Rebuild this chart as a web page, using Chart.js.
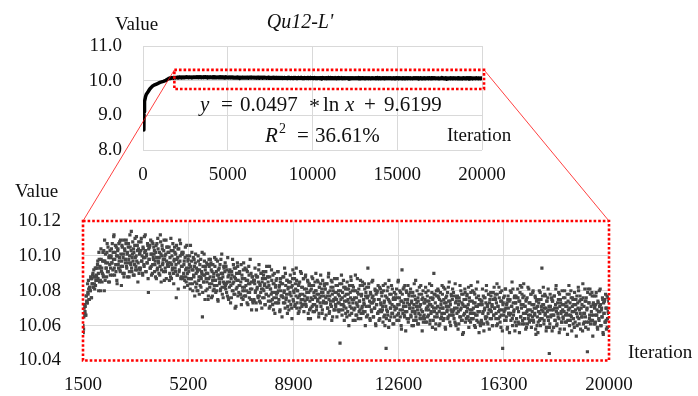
<!DOCTYPE html>
<html><head><meta charset="utf-8">
<script src="https://cdn.jsdelivr.net/npm/chart.js@4/dist/chart.umd.min.js"></script>
<style>
html,body{margin:0;padding:0;background:#fff;}
#wrap{position:relative;width:698px;height:396px;overflow:hidden;}
canvas{position:absolute;left:0;top:0;}
</style></head><body>
<div id="wrap"><canvas id="cTop" width="698" height="396"></canvas><canvas id="cBottom" width="698" height="396"></canvas></div>
<script>
// ---- data ----
const topXTicks = [0, 5000, 10000, 15000, 20000];
const topYTicks = [8, 9, 10, 11];
const bottomXTicks = [1500, 5200, 8900, 12600, 16300, 20000];
const bottomYTicks = [10.04, 10.06, 10.08, 10.10, 10.12];

// early rise (top chart only)
const earlyIterations = [50, 60, 80, 100, 150, 200, 300, 400, 530, 650, 830, 1000, 1200, 1350];
const earlyValues     = [8.58, 9.10, 9.30, 9.40, 9.54, 9.61, 9.68, 9.76, 9.83, 9.87, 9.91, 9.95, 9.98, 10.01];

// sampled values, set one: iteration 1500, 1520, ... 20000
const setOneStart = 1500, setTwoStart = 1510, sampleStep = 20;
const cloudA = [
10.060,10.058,10.070,10.067,10.071,10.066,10.077,10.073,10.084,10.078,10.081,10.075,10.082,10.080,10.087,10.076,10.084,10.089,10.082,10.092,10.084,10.088,10.083,10.093,10.088,
10.086,10.097,10.090,10.102,10.085,10.094,10.080,10.098,10.093,10.090,10.102,10.088,10.097,10.109,10.086,10.096,10.093,10.102,10.091,10.105,10.085,10.100,10.095,10.089,10.099,
10.104,10.096,10.089,10.102,10.111,10.093,10.098,10.106,10.091,10.100,10.084,10.103,10.095,10.107,10.099,10.092,10.109,10.094,10.097,10.105,10.090,10.101,10.088,10.104,10.098,
10.098,10.109,10.093,10.102,10.096,10.107,10.088,10.100,10.105,10.095,10.114,10.091,10.101,10.097,10.104,10.089,10.106,10.099,10.094,10.111,10.092,10.103,10.096,10.108,10.093,
10.102,10.093,10.108,10.097,10.100,10.089,10.104,10.095,10.111,10.099,10.103,10.091,10.101,10.096,10.106,10.079,10.098,10.105,10.093,10.109,10.094,10.101,10.090,10.107,10.098,
10.101,10.091,10.097,10.102,10.087,10.107,10.093,10.104,10.096,10.099,10.089,10.112,10.101,10.092,10.106,10.095,10.098,10.103,10.086,10.100,10.091,10.109,10.097,10.105,10.094,
10.096,10.102,10.086,10.099,10.088,10.103,10.095,10.092,10.107,10.090,10.097,10.105,10.093,10.101,10.076,10.098,10.089,10.104,10.096,10.091,10.109,10.100,10.087,10.094,10.102,
10.087,10.102,10.090,10.097,10.086,10.105,10.088,10.093,10.100,10.083,10.098,10.091,10.095,10.084,10.106,10.087,10.097,10.092,10.080,10.099,10.088,10.094,10.085,10.101,10.090,
10.084,10.091,10.080,10.097,10.088,10.092,10.083,10.098,10.087,10.090,10.065,10.094,10.085,10.101,10.089,10.092,10.080,10.090,10.085,10.095,10.075,10.087,10.094,10.082,10.098,
10.096,10.076,10.091,10.086,10.080,10.090,10.083,10.094,10.086,10.098,10.080,10.089,10.075,10.092,10.087,10.084,10.095,10.081,10.090,10.101,10.078,10.088,10.085,10.093,10.082
];
const cloudB = [
10.096,10.081,10.084,10.092,10.077,10.088,10.075,10.091,10.085,10.091,10.083,10.076,10.089,10.098,10.080,10.085,10.093,10.078,10.087,10.071,10.090,10.082,10.094,10.086,10.079,
10.090,10.083,10.078,10.095,10.076,10.087,10.080,10.092,10.077,10.082,10.093,10.077,10.086,10.080,10.091,10.072,10.084,10.089,10.079,10.098,10.075,10.085,10.081,10.088,10.073,
10.086,10.074,10.084,10.079,10.089,10.069,10.081,10.088,10.076,10.092,10.077,10.084,10.073,10.090,10.081,10.085,10.076,10.091,10.080,10.083,10.072,10.087,10.078,10.094,10.082,
10.088,10.074,10.083,10.094,10.071,10.081,10.078,10.086,10.075,10.089,10.069,10.084,10.079,10.073,10.083,10.076,10.087,10.079,10.091,10.073,10.082,10.068,10.085,10.080,10.077,
10.065,10.084,10.076,10.088,10.080,10.073,10.090,10.075,10.078,10.086,10.071,10.082,10.069,10.085,10.079,10.085,10.077,10.070,10.083,10.092,10.074,10.079,10.087,10.072,10.081,
10.093,10.070,10.080,10.076,10.083,10.068,10.085,10.078,10.073,10.090,10.071,10.082,10.075,10.087,10.072,10.077,10.088,10.072,10.081,10.075,10.086,10.067,10.079,10.084,10.074,
10.064,10.076,10.083,10.071,10.087,10.072,10.079,10.068,10.085,10.076,10.080,10.071,10.086,10.075,10.078,10.067,10.082,10.073,10.089,10.077,10.081,10.069,10.079,10.074,10.084,
10.064,10.081,10.076,10.073,10.084,10.070,10.079,10.090,10.067,10.077,10.074,10.082,10.071,10.085,10.065,10.080,10.075,10.069,10.079,10.072,10.083,10.075,10.087,10.069,10.078,
10.068,10.077,10.050,10.080,10.072,10.084,10.076,10.069,10.086,10.071,10.074,10.082,10.067,10.078,10.065,10.081,10.075,10.081,10.073,10.066,10.079,10.088,10.070,10.075,10.083,
10.063,10.075,10.080,10.070,10.089,10.066,10.076,10.072,10.079,10.064,10.081,10.074,10.069,10.086,10.067,10.078,10.071,10.083,10.068,10.073,10.084,10.068,10.077,10.071,10.082
];
const cloudC = [
10.076,10.093,10.082,10.071,10.074,10.063,10.078,10.069,10.085,10.073,10.077,10.065,10.075,10.070,10.080,10.060,10.072,10.079,10.067,10.083,10.068,10.075,10.064,10.081,10.072,
10.068,10.079,10.071,10.083,10.065,10.074,10.060,10.077,10.047,10.069,10.080,10.066,10.075,10.086,10.063,10.073,10.070,10.078,10.067,10.081,10.061,10.076,10.071,10.065,10.075,
10.078,10.070,10.063,10.076,10.085,10.067,10.072,10.080,10.065,10.074,10.058,10.092,10.069,10.081,10.073,10.066,10.083,10.068,10.071,10.079,10.064,10.075,10.062,10.078,10.072,
10.070,10.081,10.065,10.074,10.068,10.079,10.060,10.072,10.077,10.067,10.086,10.063,10.073,10.069,10.076,10.061,10.078,10.071,10.066,10.083,10.064,10.075,10.068,10.080,10.065,
10.066,10.073,10.062,10.079,10.070,10.074,10.065,10.080,10.069,10.072,10.061,10.076,10.067,10.083,10.071,10.075,10.063,10.090,10.068,10.078,10.058,10.070,10.077,10.065,10.081,
10.080,10.060,10.075,10.070,10.064,10.074,10.067,10.078,10.070,10.082,10.064,10.073,10.059,10.076,10.071,10.068,10.079,10.065,10.074,10.085,10.062,10.072,10.069,10.077,10.066,
10.081,10.066,10.069,10.077,10.062,10.073,10.060,10.076,10.070,10.076,10.068,10.061,10.074,10.083,10.065,10.070,10.078,10.063,10.072,10.056,10.075,10.067,10.079,10.071,10.064,
10.077,10.070,10.065,10.082,10.063,10.074,10.067,10.079,10.064,10.069,10.080,10.064,10.073,10.067,10.078,10.059,10.071,10.076,10.066,10.085,10.062,10.072,10.068,10.075,10.060,
10.074,10.062,10.072,10.067,10.077,10.057,10.069,10.076,10.064,10.080,10.065,10.072,10.061,10.078,10.069,10.073,10.064,10.079,10.068,10.071,10.060,10.075,10.066,10.082,10.070,
10.078,10.064,10.073,10.084,10.061,10.071,10.068,10.076,10.065,10.079,10.059,10.074,10.069,10.047,10.073,10.066,10.077,10.069,10.081,10.063,10.072,10.058,10.075,10.070,10.067
];
const cloudD = [
10.056,10.075,10.067,10.079,10.071,10.064,10.081,10.066,10.069,10.077,10.062,10.073,10.060,10.076,10.070,10.076,10.068,10.061,10.074,10.083,10.065,10.070,10.078,10.063,10.072,
10.084,10.061,10.071,10.067,10.074,10.059,10.076,10.069,10.064,10.081,10.062,10.073,10.066,10.078,10.063,10.068,10.079,10.063,10.072,10.066,10.077,10.058,10.070,10.075,10.065,
10.056,10.068,10.075,10.063,10.079,10.064,10.071,10.093,10.077,10.068,10.072,10.063,10.078,10.067,10.070,10.059,10.074,10.065,10.081,10.069,10.044,10.061,10.071,10.066,10.076,
10.057,10.074,10.069,10.066,10.077,10.063,10.072,10.083,10.060,10.070,10.067,10.075,10.064,10.078,10.058,10.073,10.068,10.062,10.072,10.065,10.076,10.068,10.080,10.062,10.071,
10.062,10.071,10.055,10.074,10.066,10.078,10.070,10.063,10.080,10.065,10.068,10.076,10.061,10.072,10.059,10.075,10.069,10.075,10.067,10.060,10.073,10.082,10.064,10.069,10.077,
10.058,10.070,10.075,10.065,10.084,10.061,10.071,10.067,10.074,10.059,10.076,10.069,10.045,10.081,10.062,10.073,10.066,10.078,10.063,10.068,10.079,10.063,10.072,10.066,10.077,
10.071,10.062,10.077,10.066,10.069,10.058,10.073,10.064,10.080,10.068,10.072,10.060,10.070,10.065,10.075,10.055,10.067,10.074,10.062,10.078,10.063,10.070,10.059,10.076,10.067,
10.068
];
// sampled values, set two: iteration 1510, 1530, ... 19990
const cloudE = [
10.056,10.065,10.072,10.068,10.066,10.077,10.074,10.073,10.079,10.086,10.075,10.082,10.080,10.088,10.076,10.087,10.084,10.090,10.082,10.088,10.081,10.093,10.086,10.089,10.093,
10.095,10.087,10.080,10.098,10.093,10.086,10.104,10.091,10.085,10.097,10.089,10.103,10.080,10.097,10.101,10.093,10.088,10.107,10.096,10.091,10.099,10.085,10.103,10.093,10.100,
10.096,10.107,10.092,10.098,10.112,10.089,10.102,10.095,10.105,10.086,10.100,10.104,10.093,10.097,10.108,10.091,10.101,10.083,10.106,10.094,10.099,10.109,10.090,10.103,10.096,
10.107,10.094,10.101,10.088,10.105,10.098,10.091,10.112,10.096,10.103,10.093,10.099,10.108,10.089,10.102,10.095,10.110,10.092,10.100,10.097,10.106,10.085,10.104,10.090,10.101,
10.092,10.103,10.110,10.097,10.090,10.105,10.099,10.094,10.102,10.112,10.091,10.100,10.096,10.107,10.087,10.104,10.098,10.106,10.093,10.101,10.089,10.108,10.095,10.099,10.105,
10.103,10.095,10.088,10.106,10.099,10.092,10.110,10.097,10.090,10.102,10.094,10.108,10.085,10.100,10.104,10.096,10.091,10.109,10.098,10.093,10.101,10.087,10.105,10.095,10.102,
10.094,10.105,10.090,10.096,10.110,10.087,10.100,10.093,10.103,10.084,10.098,10.102,10.091,10.095,10.106,10.089,10.099,10.081,10.104,10.092,10.097,10.107,10.088,10.101,10.094,
10.101,10.088,10.095,10.082,10.099,10.092,10.085,10.106,10.090,10.097,10.087,10.093,10.100,10.081,10.094,10.087,10.102,10.084,10.092,10.089,10.098,10.077,10.096,10.082,10.093,
10.080,10.092,10.100,10.086,10.078,10.095,10.088,10.082,10.091,10.102,10.079,10.089,10.085,10.097,10.075,10.094,10.087,10.096,10.081,10.090,10.077,10.098,10.084,10.088,10.095,
10.092,10.084,10.077,10.095,10.088,10.081,10.099,10.086,10.079,10.091,10.083,10.097,10.074,10.089,10.093,10.085,10.080,10.098,10.087,10.082,10.090,10.076,10.094,10.084,10.091
];
const cloudF = [
10.083,10.094,10.079,10.085,10.099,10.076,10.089,10.082,10.092,10.073,10.087,10.091,10.080,10.084,10.095,10.078,10.088,10.070,10.093,10.081,10.086,10.096,10.077,10.090,10.083,
10.091,10.078,10.085,10.072,10.089,10.082,10.075,10.096,10.080,10.087,10.077,10.083,10.092,10.073,10.086,10.079,10.094,10.076,10.084,10.081,10.090,10.069,10.088,10.074,10.085,
10.075,10.086,10.093,10.080,10.073,10.088,10.082,10.077,10.085,10.095,10.074,10.083,10.079,10.090,10.070,10.087,10.081,10.089,10.076,10.084,10.072,10.091,10.078,10.082,10.088,
10.085,10.077,10.070,10.088,10.081,10.074,10.092,10.079,10.072,10.084,10.076,10.090,10.067,10.082,10.086,10.078,10.073,10.091,10.080,10.075,10.083,10.069,10.087,10.077,10.084,
10.077,10.088,10.073,10.079,10.093,10.070,10.083,10.076,10.086,10.067,10.081,10.085,10.074,10.078,10.089,10.072,10.082,10.064,10.087,10.075,10.080,10.090,10.071,10.084,10.077,
10.086,10.073,10.080,10.067,10.084,10.077,10.070,10.091,10.075,10.082,10.072,10.078,10.087,10.068,10.081,10.074,10.089,10.071,10.079,10.076,10.085,10.064,10.083,10.069,10.080,
10.070,10.081,10.088,10.075,10.068,10.083,10.077,10.072,10.080,10.090,10.069,10.078,10.074,10.085,10.065,10.082,10.076,10.084,10.071,10.079,10.067,10.086,10.073,10.077,10.083,
10.081,10.073,10.066,10.084,10.077,10.070,10.088,10.075,10.068,10.080,10.072,10.086,10.063,10.078,10.082,10.074,10.069,10.087,10.076,10.071,10.079,10.065,10.083,10.073,10.080,
10.073,10.084,10.069,10.075,10.089,10.066,10.079,10.072,10.082,10.063,10.077,10.081,10.070,10.074,10.085,10.068,10.078,10.060,10.083,10.071,10.076,10.086,10.067,10.080,10.073,
10.082,10.069,10.076,10.063,10.080,10.073,10.066,10.087,10.071,10.078,10.068,10.074,10.083,10.064,10.077,10.070,10.085,10.067,10.075,10.072,10.081,10.060,10.079,10.065,10.076
];
const cloudG = [
10.066,10.077,10.084,10.071,10.064,10.079,10.073,10.068,10.076,10.086,10.065,10.074,10.070,10.081,10.061,10.078,10.072,10.080,10.067,10.075,10.063,10.082,10.069,10.073,10.079,
10.077,10.069,10.062,10.080,10.073,10.066,10.084,10.071,10.064,10.076,10.068,10.082,10.059,10.074,10.078,10.070,10.065,10.083,10.072,10.067,10.075,10.061,10.079,10.069,10.076,
10.070,10.081,10.066,10.072,10.086,10.063,10.076,10.069,10.079,10.060,10.074,10.078,10.067,10.071,10.082,10.065,10.075,10.057,10.080,10.068,10.073,10.083,10.064,10.077,10.070,
10.079,10.066,10.073,10.060,10.077,10.070,10.063,10.084,10.068,10.075,10.065,10.071,10.080,10.061,10.074,10.067,10.082,10.064,10.072,10.069,10.078,10.057,10.076,10.062,10.073,
10.064,10.075,10.082,10.069,10.062,10.077,10.071,10.066,10.074,10.084,10.063,10.072,10.068,10.079,10.059,10.076,10.070,10.078,10.065,10.073,10.061,10.080,10.067,10.071,10.077,
10.076,10.068,10.061,10.079,10.072,10.065,10.083,10.070,10.063,10.075,10.067,10.081,10.058,10.073,10.077,10.069,10.064,10.082,10.071,10.066,10.074,10.060,10.078,10.068,10.075,
10.068,10.079,10.064,10.070,10.084,10.061,10.074,10.067,10.077,10.058,10.072,10.076,10.065,10.069,10.080,10.063,10.073,10.055,10.078,10.066,10.071,10.081,10.062,10.075,10.068,
10.078,10.065,10.072,10.059,10.076,10.069,10.062,10.083,10.067,10.074,10.064,10.070,10.079,10.060,10.073,10.066,10.081,10.063,10.071,10.068,10.077,10.056,10.075,10.061,10.072,
10.063,10.074,10.081,10.068,10.061,10.076,10.070,10.065,10.073,10.083,10.062,10.071,10.067,10.078,10.058,10.075,10.069,10.077,10.064,10.072,10.060,10.079,10.066,10.070,10.076,
10.075,10.067,10.060,10.078,10.071,10.064,10.082,10.069,10.062,10.074,10.066,10.080,10.057,10.072,10.076,10.068,10.063,10.081,10.070,10.065,10.073,10.059,10.077,10.067,10.074
];
const cloudH = [
10.066,10.080,10.063,10.071,10.085,10.060,10.073,10.068,10.076,10.057,10.073,10.077,10.064,10.070,10.081,10.062,10.074,10.056,10.079,10.065,10.072,10.082,10.061,10.076,10.067,
10.077,10.064,10.071,10.058,10.075,10.068,10.061,10.082,10.066,10.073,10.063,10.069,10.078,10.059,10.072,10.065,10.080,10.062,10.070,10.067,10.076,10.055,10.074,10.060,10.071,
10.062,10.073,10.080,10.067,10.060,10.075,10.069,10.064,10.072,10.082,10.061,10.070,10.066,10.077,10.057,10.074,10.068,10.076,10.063,10.071,10.059,10.078,10.065,10.069,10.075,
10.074,10.066,10.059,10.077,10.070,10.063,10.081,10.068,10.061,10.073,10.065,10.079,10.056,10.071,10.075,10.067,10.062,10.080,10.069,10.064,10.072,10.058,10.076,10.066,10.073,
10.067,10.078,10.063,10.069,10.083,10.060,10.073,10.066,10.076,10.057,10.071,10.075,10.064,10.068,10.079,10.062,10.072,10.054,10.077,10.065,10.070,10.080,10.061,10.074,10.067,
10.075,10.065,10.072,10.057,10.076,10.067,10.062,10.081,10.065,10.074,10.062,10.070,10.079,10.058,10.073,10.064,10.081,10.061,10.071,10.066,10.077,10.054,10.073,10.061,10.070,
10.061,10.072,10.079,10.066,10.059,10.074,10.068,10.063,10.071,10.081,10.060,10.069,10.065,10.076,10.056,10.073,10.067,10.075,10.062,10.070,10.058,10.077,10.064,10.068,10.074
];
const setOneValues = cloudA.concat(cloudB, cloudC, cloudD);
const setTwoValues = cloudE.concat(cloudF, cloudG, cloudH);
const setOneIterations = setOneValues.map((v, i) => setOneStart + i * sampleStep);
const setTwoIterations = setTwoValues.map((v, i) => setTwoStart + i * sampleStep);

// ---- styles ----
const SERIF = "'Liberation Serif','Times New Roman',serif";
const GRID = '#d9d9d9';
const TXT = '#111111';
const RED = '#ff0000';

const cloudPoints = setOneIterations.map((x, i) => ({x, y: setOneValues[i]}))
  .concat(setTwoIterations.map((x, i) => ({x, y: setTwoValues[i]})))
  .sort((p, q) => p.x - q.x);
const topPoints = earlyIterations.map((x, i) => ({x, y: earlyValues[i]})).concat(cloudPoints);

const topChart = new Chart(document.getElementById('cTop'), {
  type: 'scatter',
  data: { datasets: [{
    data: topPoints, showLine: true, borderColor: '#000', borderWidth: 3.5,
    pointRadius: 0, tension: 0, borderJoinStyle: 'round', borderCapStyle: 'round'
  }]},
  options: {
    responsive: false, animation: false, devicePixelRatio: 1,
    layout: { padding: { left: 43, top: 46, right: 216, bottom: 206 } },
    plugins: { legend: { display: false }, tooltip: { enabled: false } },
    scales: {
      x: {
        type: 'linear', min: 0, max: 20000,
        afterBuildTicks: s => { s.ticks = topXTicks.map(v => ({value: v})); },
        afterFit: s => { s.height = 40; },
        grid: { color: GRID, drawTicks: false }, border: { display: false },
        ticks: { autoSkip: false, maxRotation: 0, padding: 14, color: TXT, font: { family: SERIF, size: 19 }, callback: v => String(v) }
      },
      y: {
        type: 'linear', min: 8, max: 11,
        afterBuildTicks: s => { s.ticks = topYTicks.map(v => ({value: v})); },
        afterFit: s => { s.width = 100; },
        grid: { color: GRID, drawTicks: false }, border: { display: false },
        ticks: { autoSkip: false, padding: 21, color: TXT, font: { family: SERIF, size: 19 }, callback: v => Number(v).toFixed(1) }
      }
    }
  }
});

const decor = {
  id: 'decor',
  afterDraw(chart) {
    const ctx = chart.ctx;
    const tx = topChart.scales.x, ty = topChart.scales.y;
    const a = chart.chartArea;
    const L = tx.getPixelForValue(1850), R = tx.getPixelForValue(20120);
    const T = ty.getPixelForValue(10.31), B = ty.getPixelForValue(9.76);
    ctx.save();
    ctx.strokeStyle = 'rgba(255,0,0,0.75)'; ctx.lineWidth = 1;
    ctx.beginPath(); ctx.moveTo(L, T); ctx.lineTo(a.left, a.top); ctx.stroke();
    ctx.beginPath(); ctx.moveTo(R, T); ctx.lineTo(a.right, a.top); ctx.stroke();
    ctx.strokeStyle = RED; ctx.lineWidth = 2.6; ctx.setLineDash([2.6, 2]);
    ctx.strokeRect(L, T, R - L, B - T);
    ctx.strokeRect(a.left, a.top, a.right - a.left, a.bottom - a.top);
    ctx.setLineDash([]);
    ctx.fillStyle = TXT; ctx.textBaseline = 'alphabetic'; ctx.textAlign = 'left';
    ctx.font = `19px ${SERIF}`;
    ctx.fillText('Value', 115, 30);
    ctx.fillText('Iteration', 447, 141);
    ctx.fillText('Value', 15, 197);
    ctx.fillText('Iteration', 628, 358);
    ctx.font = `italic 20px ${SERIF}`; ctx.textAlign = 'center';
    ctx.fillText("Qu12-L'", 300, 28);
    ctx.textAlign = 'left';
    const eq = [['y',200,true],['=',221,false],['0.0497',240,false],['ln',323,false],['x',345,true],['+',364,false],['9.6199',384,false]];
    eq.forEach(([t, x, it]) => { ctx.font = `${it ? 'italic ' : ''}21px ${SERIF}`; ctx.fillText(t, x, 111); });
    ctx.font = `22px ${SERIF}`; ctx.fillText('*', 309, 113);
    const r2 = [['R',265,true],['=',297,false],['36.61%',315,false]];
    r2.forEach(([t, x, it]) => { ctx.font = `${it ? 'italic ' : ''}21px ${SERIF}`; ctx.fillText(t, x, 142); });
    ctx.font = `14px ${SERIF}`; ctx.fillText('2', 279, 133);
    ctx.restore();
  }
};

const edgeHidden = c => (c.index === 0 || c.index === c.scale.ticks.length - 1) ? 'rgba(0,0,0,0)' : GRID;

const bottomChart = new Chart(document.getElementById('cBottom'), {
  type: 'scatter',
  data: { datasets: [{
    data: cloudPoints, pointStyle: 'rect', pointRadius: 2.25, pointBorderWidth: 0,
    backgroundColor: '#474747', borderColor: '#474747'
  }]},
  options: {
    responsive: false, animation: false, devicePixelRatio: 1,
    layout: { padding: { left: 3, top: 221, right: 89, bottom: 0 } },
    plugins: { legend: { display: false }, tooltip: { enabled: false } },
    scales: {
      x: {
        type: 'linear', min: 1500, max: 20000,
        afterBuildTicks: s => { s.ticks = bottomXTicks.map(v => ({value: v})); },
        afterFit: s => { s.height = 35.5; },
        grid: { color: edgeHidden, drawTicks: false }, border: { display: false },
        ticks: { autoSkip: false, maxRotation: 0, padding: 13, color: TXT, font: { family: SERIF, size: 19 }, callback: v => String(v) }
      },
      y: {
        type: 'linear', min: 10.04, max: 10.12,
        afterBuildTicks: s => { s.ticks = bottomYTicks.map(v => ({value: v})); },
        afterFit: s => { s.width = 80; },
        grid: { color: edgeHidden, drawTicks: false }, border: { display: false },
        ticks: { autoSkip: false, padding: 22, color: TXT, font: { family: SERIF, size: 19 }, callback: v => Number(v).toFixed(2) }
      }
    }
  },
  plugins: [decor]
});
</script>
</body></html>
